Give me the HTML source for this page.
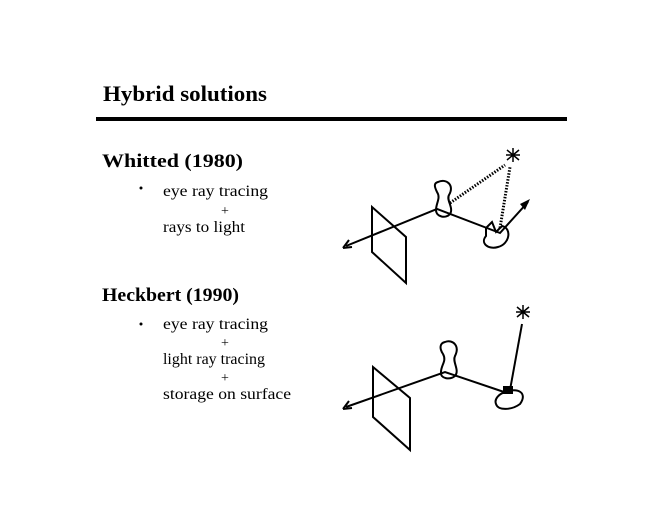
<!DOCTYPE html>
<html><head><style>
html,body{margin:0;padding:0;background:#fff;}
svg{display:block;}
text{font-family:"Liberation Serif",serif;fill:#000;}
</style></head><body>
<svg width="660" height="510" viewBox="0 0 660 510" xmlns="http://www.w3.org/2000/svg">
<text x="103" y="101" font-size="22" font-weight="bold" textLength="164" lengthAdjust="spacingAndGlyphs">Hybrid solutions</text>
<rect x="96" y="117" width="471" height="4" fill="#000"/>
<text x="102" y="167" font-size="19" font-weight="bold" textLength="141" lengthAdjust="spacingAndGlyphs">Whitted (1980)</text>
<circle cx="141" cy="188" r="1.5" fill="#000"/>
<text x="163" y="196" font-size="16" textLength="105" lengthAdjust="spacingAndGlyphs">eye ray tracing</text>
<text x="225" y="215" font-size="14" text-anchor="middle">+</text>
<text x="163" y="232" font-size="16" textLength="82" lengthAdjust="spacingAndGlyphs">rays to light</text>
<text x="102" y="301" font-size="19" font-weight="bold" textLength="137" lengthAdjust="spacingAndGlyphs">Heckbert (1990)</text>
<circle cx="141" cy="324" r="1.5" fill="#000"/>
<text x="163" y="329" font-size="16" textLength="105" lengthAdjust="spacingAndGlyphs">eye ray tracing</text>
<text x="225" y="347" font-size="14" text-anchor="middle">+</text>
<text x="163" y="364" font-size="16" textLength="102" lengthAdjust="spacingAndGlyphs">light ray tracing</text>
<text x="225" y="382" font-size="14" text-anchor="middle">+</text>
<text x="163" y="399" font-size="16" textLength="128" lengthAdjust="spacingAndGlyphs">storage on surface</text>

<g fill="none" stroke="#000" stroke-width="2">
<path d="M372 207 L406 237 L406 283 L372 252 Z"/>
<path d="M346 246 L437 209 L500 233 L528 202"/>
<path d="M343 248 L349 240 M343 248 L352 247" />
<path d="M438 182 C446 178 455 185 449 195 C446 200 454 208 450 214 C446 219 436 217 436 210 C436 203 441 198 437 192 C434 186 434 183 438 182 Z"/>
<path d="M486 228 L492 222 L496 232 L502 226 C512 228 510 244 498 247 C488 250 480 243 486 236 L486 228 Z"/>
<path d="M450 203 L505 165" stroke-dasharray="1.5 1.5" stroke-width="3"/>
<path d="M500 228 L510 167" stroke-dasharray="1.5 1.5" stroke-width="3"/>
<path d="M507 150 L519 160 M519 150 L507 160 M513 148 L513 162 M506 155 L520 155" stroke-width="1.5"/>
<path d="M373 367 L410 398 L410 450 L373 417 Z"/>
<path d="M346 407 L445 372 L507 393"/>
<path d="M343 409 L349 401 M343 409 L352 408"/>
<path d="M445 342 C453 339 460 346 455 356 C452 362 460 370 455 376 C450 380 440 379 441 372 C441 365 447 361 443 354 C439 348 440 343 445 342 Z"/>
<path d="M505 392 C518 387 528 393 520 404 C512 410 498 411 496 404 C494 399 499 394 505 392 Z"/>
<path d="M522 324 L510 390"/>
<path d="M517 307 L529 317 M529 307 L517 317 M523 305 L523 319 M516 312 L530 312" stroke-width="1.5"/>
</g>
<polygon points="530,199 520,204 525,210" fill="#000"/>
<rect x="503" y="386" width="10" height="8" fill="#000"/>
</svg>
</body></html>
